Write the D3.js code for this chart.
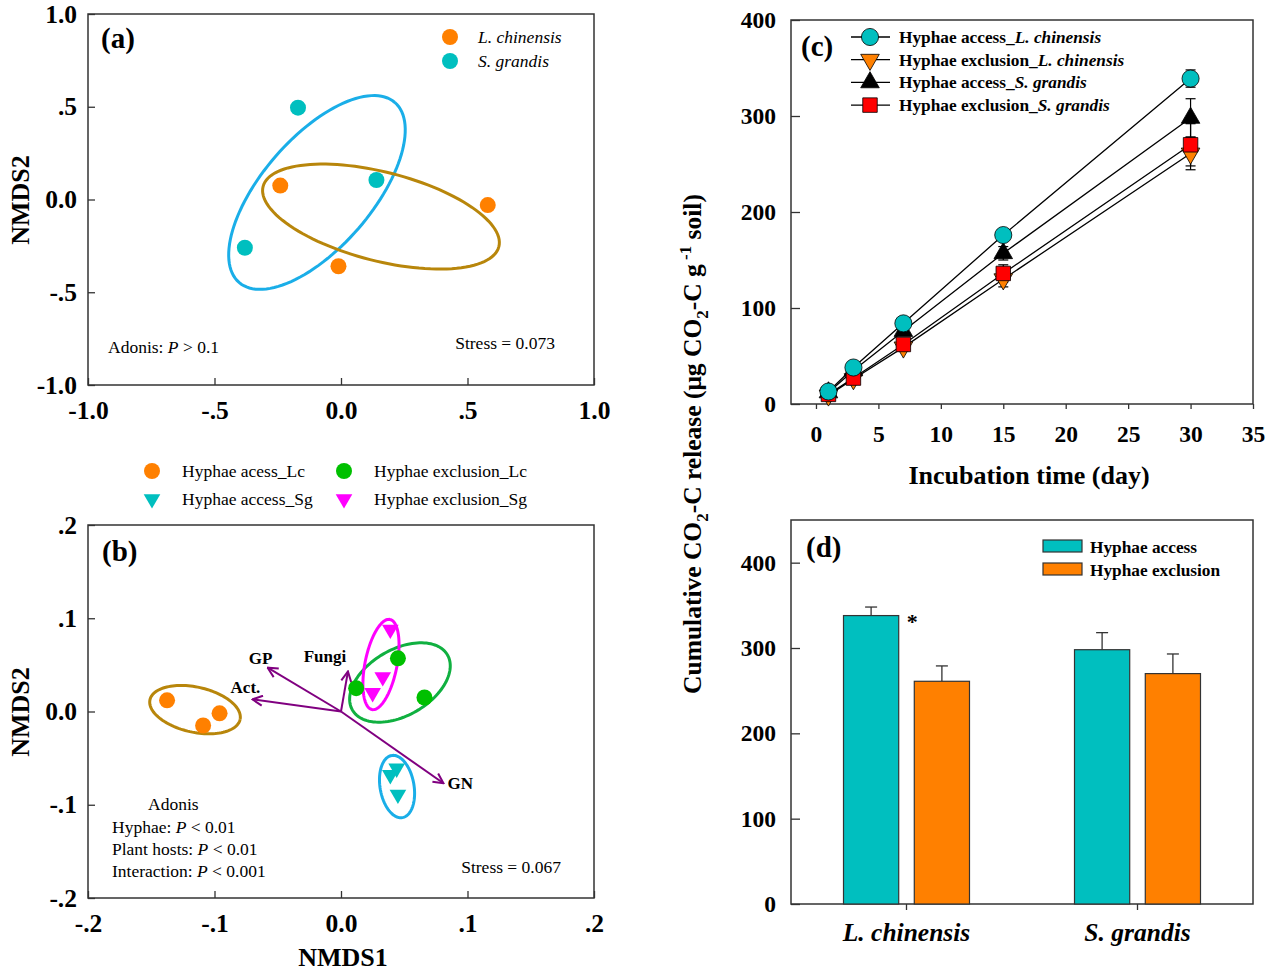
<!DOCTYPE html>
<html>
<head>
<meta charset="utf-8">
<script src="https://cdn.jsdelivr.net/npm/d3@7"></script>
<style>
  body { margin: 0; background: #fff; }
  svg { display: block; }
</style>
</head>
<body>
<svg id="chart" width="1273" height="974"></svg>
<script>
// ---- panel (a): NMDS of plant hosts ----
const aHosts = ['L. chinensis', 'S. grandis'];
const aPointHost = [0, 0, 0, 1, 1, 1];
const aPointX = [-0.24, 0.58, -0.01, -0.17, 0.14, -0.38];
const aPointY = [0.075, -0.03, -0.36, 0.495, 0.105, -0.26];
// confidence ellipses: centre + two semi-axis vectors (data units)
const aEllipseHost = [1, 0];
const aEllipseC = [[-0.095, 0.038], [0.158, -0.092]];
const aEllipseA = [[0.308, 0.485], [0.466, -0.162]];
const aEllipseB = [[0.164, -0.194], [-0.043, -0.232]];
const aTicks = [-1, -0.5, 0, 0.5, 1];

// ---- panel (b): NMDS of hyphae x host ----
const bGroups = ['Hyphae acess_Lc', 'Hyphae exclusion_Lc', 'Hyphae access_Sg', 'Hyphae exclusion_Sg'];
const bPointGroup = [0, 0, 0, 1, 1, 1, 3, 3, 3, 2, 2, 2];
const bPointX = [-0.1375, -0.109, -0.096, 0.012, 0.045, 0.066, 0.039, 0.033, 0.025, 0.039, 0.044, 0.045];
const bPointY = [0.012, -0.015, -0.002, 0.025, 0.057, 0.015, 0.088, 0.037, 0.020, -0.068, -0.061, -0.089];
const bEllipseGroup = [0, 1, 3, 2];
const bEllipseC = [[-0.1154, 0.002], [0.0466, 0.0311], [0.0316, 0.0504], [0.0443, -0.0805]];
const bEllipseA = [[0.0356, -0.0107], [0.0376, 0.0295], [0.0071, 0.0483], [-0.0043, 0.0333]];
const bEllipseB = [[-0.004, -0.0236], [0.013, -0.0307], [0.0124, -0.0034], [0.0132, 0.0032]];
const envVars = ['GP', 'Act.', 'Fungi', 'GN'];
const envX = [-0.058, -0.070, 0.0055, 0.081];
const envY = [0.047, 0.013, 0.043, -0.077];
const bTicks = [-0.2, -0.1, 0, 0.1, 0.2];

// ---- panel (c): cumulative CO2-C over time ----
const days = [1, 3, 7, 15, 30];
const cSeries = ['Hyphae access_', 'Hyphae exclusion_', 'Hyphae access_', 'Hyphae exclusion_'];
const cSeriesHost = ['L. chinensis', 'L. chinensis', 'S. grandis', 'S. grandis'];
const accessLc = [13, 38, 84, 176, 339];
const accessLcErr = [2, 3, 3, 5, 9];
const exclusionLc = [9, 26, 59, 130, 261];
const exclusionLcErr = [2, 3, 4, 8, 17];
const accessSg = [12, 35, 76, 157, 298];
const accessSgErr = [2, 3, 4, 7, 20];
const exclusionSg = [10, 27, 62, 136, 270];
const exclusionSgErr = [2, 3, 4, 9, 22];
const cXTicks = [0, 5, 10, 15, 20, 25, 30, 35];
const cYTicks = [0, 100, 200, 300, 400];

// ---- panel (d): total at day 30 ----
const hosts = ['L. chinensis', 'S. grandis'];
const treatments = ['Hyphae access', 'Hyphae exclusion'];
const accessMean = [338, 298];
const accessErr = [10, 20];
const exclusionMean = [261, 270];
const exclusionErr = [18, 23];
const dYTicks = [0, 100, 200, 300, 400];

const FONT = '"Liberation Serif", "Times New Roman", serif';
const ORANGE = '#ff8000';
const TEAL = '#00bfbf';
const svg = d3.select('#chart').attr('font-family', FONT);

function nmdsFmt(v) {
    if (v === 0 || Math.abs(v) >= 1) return v.toFixed(1);
    return String(v).replace('0.', '.');
}

function styleAxis(g, size) {
    g.attr('font-family', FONT).attr('font-size', size).attr('font-weight', 'bold');
    g.select('.domain').remove();
    g.selectAll('.tick line').attr('stroke', '#333').attr('stroke-width', 1.3);
    g.selectAll('.tick text').attr('fill', '#000');
}

function frame(x, y) {
    svg.append('rect')
        .attr('x', x.range()[0]).attr('y', y.range()[1])
        .attr('width', x.range()[1] - x.range()[0])
        .attr('height', y.range()[0] - y.range()[1])
        .attr('fill', 'none').attr('stroke', '#333').attr('stroke-width', 1.5);
}

function ellipsePath(x, y, c, a, b) {
    const pts = d3.range(0, 121).map(i => {
        const t = i / 120 * 2 * Math.PI;
        return [x(c[0] + a[0] * Math.cos(t) + b[0] * Math.sin(t)),
                y(c[1] + a[1] * Math.cos(t) + b[1] * Math.sin(t))];
    });
    return d3.line()(pts);
}

const triDown = d3.symbol(d3.symbolTriangle, 120);
const NMDS_TICK = 25.5;
const TITLE = 26;
const SMALL = 17.5;
const LETTER = 29;

// ===================== panel (a) =====================
const xA = d3.scaleLinear().domain([-1, 1]).range([88, 594]);
const yA = d3.scaleLinear().domain([-1, 1]).range([385, 14]);
const aColors = [ORANGE, TEAL];
const aEllColors = ['#b8860b', '#1aaee8'];

svg.append('g').attr('transform', 'translate(0,385)')
    .call(d3.axisBottom(xA).tickValues(aTicks).tickFormat(nmdsFmt).tickSize(-7).tickPadding(16))
    .call(g => styleAxis(g, NMDS_TICK));
svg.append('g').attr('transform', 'translate(88,0)')
    .call(d3.axisLeft(yA).tickValues(aTicks).tickFormat(nmdsFmt).tickSize(-7).tickPadding(11))
    .call(g => styleAxis(g, NMDS_TICK));
frame(xA, yA);

aEllipseHost.forEach((h, i) => {
    svg.append('path')
        .attr('d', ellipsePath(xA, yA, aEllipseC[i], aEllipseA[i], aEllipseB[i]))
        .attr('fill', 'none').attr('stroke', aEllColors[h]).attr('stroke-width', 3);
});

svg.append('g').selectAll('circle')
    .data(aPointX)
    .enter()
    .append('circle')
    .attr('cx', d => xA(d))
    .attr('cy', (d, i) => yA(aPointY[i]))
    .attr('r', 8)
    .attr('fill', (d, i) => aColors[aPointHost[i]]);

// legend (a)
aHosts.forEach((h, i) => {
    svg.append('circle').attr('cx', 450).attr('cy', 37 + i * 24).attr('r', 8).attr('fill', aColors[i]);
    svg.append('text').attr('x', 478).attr('y', 43 + i * 24)
        .attr('font-size', SMALL).attr('font-style', 'italic').text(h);
});

svg.append('text').attr('x', 101).attr('y', 48).attr('font-size', LETTER).attr('font-weight', 'bold').text('(a)');
const adA = svg.append('text').attr('x', 108).attr('y', 353).attr('font-size', SMALL);
adA.append('tspan').text('Adonis: ');
adA.append('tspan').attr('font-style', 'italic').text('P');
adA.append('tspan').text(' > 0.1');
svg.append('text').attr('x', 555).attr('y', 349).attr('text-anchor', 'end').attr('font-size', SMALL).text('Stress = 0.073');
svg.append('text').attr('transform', 'translate(29,200) rotate(-90)')
    .attr('text-anchor', 'middle').attr('font-size', TITLE).attr('font-weight', 'bold').text('NMDS2');

// ===================== panel (b) =====================
const xB = d3.scaleLinear().domain([-0.2, 0.2]).range([88, 594]);
const yB = d3.scaleLinear().domain([-0.2, 0.2]).range([898, 525]);
const bColors = [ORANGE, '#00c000', TEAL, '#ff00ff'];
const bEllColors = ['#b8860b', '#10b040', '#1aaee8', '#ff00ff'];
const PURPLE = '#800080';

svg.append('g').attr('transform', 'translate(0,898)')
    .call(d3.axisBottom(xB).tickValues(bTicks).tickFormat(nmdsFmt).tickSize(-7).tickPadding(16))
    .call(g => styleAxis(g, NMDS_TICK));
svg.append('g').attr('transform', 'translate(88,0)')
    .call(d3.axisLeft(yB).tickValues(bTicks).tickFormat(nmdsFmt).tickSize(-7).tickPadding(11))
    .call(g => styleAxis(g, NMDS_TICK));
frame(xB, yB);

svg.append('defs').append('marker')
    .attr('id', 'arrow').attr('viewBox', '0 0 12 12')
    .attr('refX', 11).attr('refY', 6)
    .attr('markerWidth', 12).attr('markerHeight', 12)
    .attr('markerUnits', 'userSpaceOnUse')
    .attr('orient', 'auto')
    .append('path').attr('d', 'M1,1 L11,6 L1,11')
    .attr('fill', 'none').attr('stroke', PURPLE).attr('stroke-width', 2);

svg.append('g').selectAll('line')
    .data(envX)
    .enter()
    .append('line')
    .attr('x1', xB(0)).attr('y1', yB(0))
    .attr('x2', d => xB(d)).attr('y2', (d, i) => yB(envY[i]))
    .attr('stroke', PURPLE).attr('stroke-width', 2)
    .attr('marker-end', 'url(#arrow)');

// label offsets from arrow tips (layout only)
const envLabelDx = [-7, -7, -23, 4];
const envLabelDy = [-10, -12, -15, 0];
const envAnchor = ['middle', 'middle', 'middle', 'start'];
svg.append('g').selectAll('text')
    .data(envVars)
    .enter()
    .append('text')
    .attr('x', (d, i) => xB(envX[i]) + envLabelDx[i])
    .attr('y', (d, i) => yB(envY[i]) + envLabelDy[i] + 6)
    .attr('text-anchor', (d, i) => envAnchor[i])
    .attr('font-size', 17).attr('font-weight', 'bold')
    .text(d => d);

bEllipseGroup.forEach((gIdx, i) => {
    svg.append('path')
        .attr('d', ellipsePath(xB, yB, bEllipseC[i], bEllipseA[i], bEllipseB[i]))
        .attr('fill', 'none').attr('stroke', bEllColors[gIdx]).attr('stroke-width', 3);
});

const bPts = svg.append('g');
bPointX.forEach((v, i) => {
    const gIdx = bPointGroup[i];
    if (gIdx < 2) {
        bPts.append('circle').attr('cx', xB(v)).attr('cy', yB(bPointY[i])).attr('r', 8)
            .attr('fill', bColors[gIdx]);
    } else {
        bPts.append('path').attr('d', triDown)
            .attr('transform', `translate(${xB(v)},${yB(bPointY[i])}) rotate(180)`)
            .attr('fill', bColors[gIdx]);
    }
});

// legend (b)
bGroups.forEach((name, i) => {
    const lx = i % 2 === 0 ? 152 : 344;
    const ly = i < 2 ? 471 : 499;
    if (i < 2) {
        svg.append('circle').attr('cx', lx).attr('cy', ly).attr('r', 8).attr('fill', bColors[i]);
    } else {
        svg.append('path').attr('d', triDown)
            .attr('transform', `translate(${lx},${ly}) rotate(180)`).attr('fill', bColors[i]);
    }
    svg.append('text').attr('x', lx + 30).attr('y', ly + 6).attr('font-size', SMALL).text(name);
});

svg.append('text').attr('x', 102).attr('y', 561).attr('font-size', LETTER).attr('font-weight', 'bold').text('(b)');
svg.append('text').attr('x', 148).attr('y', 810).attr('font-size', SMALL).text('Adonis');
[['Hyphae: ', ' < 0.01'], ['Plant hosts: ', ' < 0.01'], ['Interaction: ', ' < 0.001']].forEach((p, i) => {
    const t = svg.append('text').attr('x', 112).attr('y', 833 + i * 22).attr('font-size', SMALL);
    t.append('tspan').text(p[0]);
    t.append('tspan').attr('font-style', 'italic').text('P');
    t.append('tspan').text(p[1]);
});
svg.append('text').attr('x', 561).attr('y', 873).attr('text-anchor', 'end').attr('font-size', SMALL).text('Stress = 0.067');
svg.append('text').attr('transform', 'translate(29,712) rotate(-90)')
    .attr('text-anchor', 'middle').attr('font-size', TITLE).attr('font-weight', 'bold').text('NMDS2');
svg.append('text').attr('x', 343).attr('y', 966)
    .attr('text-anchor', 'middle').attr('font-size', TITLE).attr('font-weight', 'bold').text('NMDS1');

// ===================== panel (c) =====================
const xC = d3.scaleLinear().domain([-2, 35]).range([791, 1253]);
const yC = d3.scaleLinear().domain([0, 400]).range([404, 20]);

svg.append('g').attr('transform', 'translate(0,404)')
    .call(d3.axisBottom(xC).tickValues(cXTicks).tickSize(5).tickPadding(16))
    .call(g => styleAxis(g, 23.5));
svg.append('g').attr('transform', 'translate(791,0)')
    .call(d3.axisLeft(yC).tickValues(cYTicks).tickSize(-9).tickPadding(15))
    .call(g => styleAxis(g, 23.5));
frame(xC, yC);

const cValues = [accessLc, exclusionLc, accessSg, exclusionSg];
const cErrors = [accessLcErr, exclusionLcErr, accessSgErr, exclusionSgErr];
const cFill = [TEAL, ORANGE, '#000', '#ff0000'];
const cSymbols = [d3.symbolCircle, d3.symbolTriangle, d3.symbolTriangle, d3.symbolSquare];
const cSizes = [230, 150, 150, 210];
const cRotate = [0, 180, 0, 0];

const line = d3.line().x((d, i) => xC(days[i])).y(d => yC(d));

// lines and error bars first, markers on top
cValues.forEach((vals, s) => {
    svg.append('path').attr('d', line(vals))
        .attr('fill', 'none').attr('stroke', '#000').attr('stroke-width', 1.3);
    const eb = svg.append('g').attr('stroke', '#000').attr('stroke-width', 1.2);
    vals.forEach((v, i) => {
        const cx = xC(days[i]);
        const e = cErrors[s][i];
        eb.append('line').attr('x1', cx).attr('x2', cx).attr('y1', yC(v - e)).attr('y2', yC(v + e));
        eb.append('line').attr('x1', cx - 5).attr('x2', cx + 5).attr('y1', yC(v + e)).attr('y2', yC(v + e));
        eb.append('line').attr('x1', cx - 5).attr('x2', cx + 5).attr('y1', yC(v - e)).attr('y2', yC(v - e));
    });
});
[1, 2, 3, 0].forEach(s => {
    const sym = d3.symbol(cSymbols[s], cSizes[s]);
    svg.append('g').selectAll('path')
        .data(cValues[s])
        .enter()
        .append('path')
        .attr('d', sym)
        .attr('transform', (d, i) => `translate(${xC(days[i])},${yC(d)}) rotate(${cRotate[s]})`)
        .attr('fill', cFill[s]).attr('stroke', '#000').attr('stroke-width', 0.8);
});

// legend (c)
cSeries.forEach((name, s) => {
    const ly = 37 + s * 22.7;
    svg.append('line').attr('x1', 851).attr('x2', 890).attr('y1', ly).attr('y2', ly)
        .attr('stroke', '#000').attr('stroke-width', 1.3);
    svg.append('path').attr('d', d3.symbol(cSymbols[s], cSizes[s])())
        .attr('transform', `translate(870,${ly}) rotate(${cRotate[s]})`)
        .attr('fill', cFill[s]).attr('stroke', '#000').attr('stroke-width', 0.8);
    const t = svg.append('text').attr('x', 899).attr('y', ly + 6)
        .attr('font-size', 17.3).attr('font-weight', 'bold');
    t.append('tspan').text(name);
    t.append('tspan').attr('font-style', 'italic').text(cSeriesHost[s]);
});

svg.append('text').attr('x', 801).attr('y', 56).attr('font-size', LETTER).attr('font-weight', 'bold').text('(c)');
svg.append('text').attr('x', 1029).attr('y', 484)
    .attr('text-anchor', 'middle').attr('font-size', TITLE).attr('font-weight', 'bold').text('Incubation time (day)');

// ===================== panel (d) =====================
const xD = d3.scaleBand().domain(hosts).range([791, 1253]);
const xD1 = d3.scaleBand().domain(treatments).range([-63, 63]).paddingInner(0.22);
const yD = d3.scaleLinear().domain([0, 450]).range([904, 520]);
const dColors = [TEAL, ORANGE];

svg.append('g').attr('transform', 'translate(0,904)')
    .call(d3.axisBottom(xD).tickSize(6).tickPadding(13))
    .call(g => styleAxis(g, NMDS_TICK))
    .call(g => g.selectAll('.tick text').attr('font-style', 'italic'));
svg.append('g').attr('transform', 'translate(791,0)')
    .call(d3.axisLeft(yD).tickValues(dYTicks).tickSize(-9).tickPadding(15))
    .call(g => styleAxis(g, 23.5));
frame(xD, yD);

const dMeans = [accessMean, exclusionMean];
const dErrs = [accessErr, exclusionErr];
treatments.forEach((tr, k) => {
    const g = svg.append('g');
    hosts.forEach((h, i) => {
        const bx = xD(h) + xD.bandwidth() / 2 + xD1(tr);
        const cx = bx + xD1.bandwidth() / 2;
        const top = yD(dMeans[k][i] + dErrs[k][i]);
        g.append('line').attr('x1', cx).attr('x2', cx).attr('y1', yD(dMeans[k][i])).attr('y2', top)
            .attr('stroke', '#333').attr('stroke-width', 1.3);
        g.append('line').attr('x1', cx - 6).attr('x2', cx + 6).attr('y1', top).attr('y2', top)
            .attr('stroke', '#333').attr('stroke-width', 1.3);
        g.append('rect')
            .attr('x', bx).attr('y', yD(dMeans[k][i]))
            .attr('width', xD1.bandwidth())
            .attr('height', yD(0) - yD(dMeans[k][i]))
            .attr('fill', dColors[k]).attr('stroke', '#333').attr('stroke-width', 1.2);
    });
});

svg.append('text')
    .attr('x', xD(hosts[0]) + xD.bandwidth() / 2 + xD1(treatments[0]) + xD1.bandwidth() + 8)
    .attr('y', yD(accessMean[0]) + 13)
    .attr('font-size', 22).attr('font-weight', 'bold').text('*');

// legend (d)
treatments.forEach((tr, k) => {
    svg.append('rect').attr('x', 1043).attr('y', 540 + k * 23).attr('width', 39).attr('height', 12)
        .attr('fill', dColors[k]).attr('stroke', '#333').attr('stroke-width', 1.2);
    svg.append('text').attr('x', 1090).attr('y', 553 + k * 23)
        .attr('font-size', 17.3).attr('font-weight', 'bold').text(tr);
});
svg.append('text').attr('x', 806).attr('y', 557).attr('font-size', LETTER).attr('font-weight', 'bold').text('(d)');

// shared y label for (c) and (d)
const yl = svg.append('text').attr('transform', 'translate(701,444) rotate(-90)')
    .attr('text-anchor', 'middle').attr('font-size', 25.5).attr('font-weight', 'bold');
yl.append('tspan').text('Cumulative CO');
yl.append('tspan').attr('font-size', 17).attr('dy', 7).text('2');
yl.append('tspan').attr('dy', -7).text('-C release (\u03bcg CO');
yl.append('tspan').attr('font-size', 17).attr('dy', 7).text('2');
yl.append('tspan').attr('dy', -7).text('-C g');
yl.append('tspan').attr('font-size', 17).attr('dy', -10).text(' -1');
yl.append('tspan').attr('dy', 10).text(' soil)');
</script>
</body>
</html>
